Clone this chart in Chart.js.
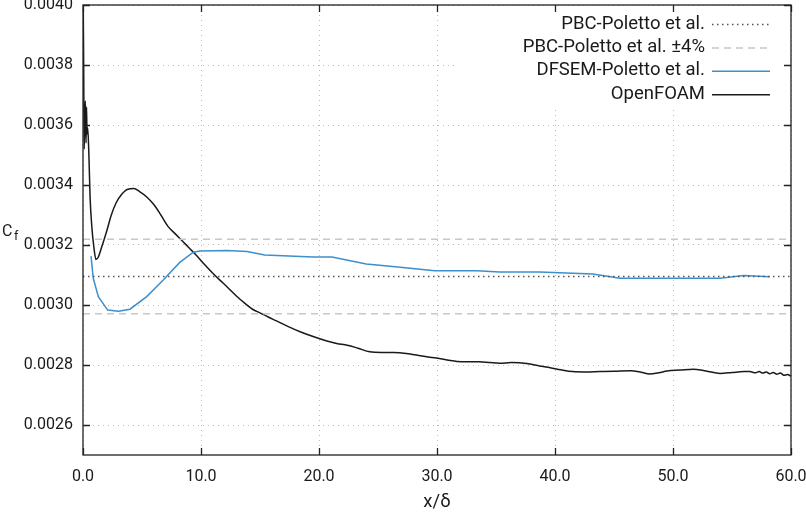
<!DOCTYPE html>
<html>
<head>
<meta charset="utf-8">
<script src="https://cdn.jsdelivr.net/npm/chart.js@4.4.1/dist/chart.umd.min.js"></script>
<style>
  body { margin: 0; background: #fff; }
  #wrap { width: 806px; height: 513px; }
</style>
</head>
<body>
<div id="wrap"><canvas id="myChart"></canvas></div>
<script>
// tick positions
const xTicks = [0, 10, 20, 30, 40, 50, 60]
const yTicks = [0.0026, 0.0028, 0.0030, 0.0032, 0.0034, 0.0036, 0.0038, 0.0040]

// PBC reference value and the +-4% band
const pbcX = [0, 60]
const pbcValue = 0.003095
const bandHigh = 0.003219
const bandLow = 0.002971

// DFSEM-Poletto et al.
const dfsemX = [0.68, 0.87, 1.3, 2.09, 3.0, 3.98, 5.4, 6.8, 8.2, 9.35, 9.9, 12.2, 13.9,
    15.4, 19.5, 21.1, 24.0, 26.9, 29.8, 33.4, 35.3, 38.7, 43.2, 45.5, 54.0, 56.0, 58.2]
const dfsemY = [0.003163, 0.003089, 0.003028, 0.002983, 0.002979, 0.002986, 0.003028,
    0.003083, 0.003142, 0.003176, 0.003180, 0.003182, 0.003178, 0.003167, 0.003160,
    0.003160, 0.003137, 0.003126, 0.003114, 0.003114, 0.003110, 0.003110, 0.003103,
    0.003089, 0.003089, 0.003098, 0.003094]

// OpenFOAM
const foamX = [0.02, 0.06, 0.10, 0.14, 0.20, 0.26, 0.30, 0.34, 0.40, 0.50, 0.60, 0.75, 0.90,
    1.1, 1.3, 1.6, 2.0, 2.4, 2.8, 3.3, 3.8, 4.3, 4.8, 5.4, 6.0, 6.6, 7.2, 7.8, 8.4, 9.0,
    9.6, 10.3, 11.0, 11.6, 12.2, 13.0, 13.8, 14.4, 15.0, 15.7, 16.4, 17.4, 18.4, 19.5,
    20.6, 21.5, 22.4, 23.3, 24.3, 25.3, 26.3, 27.7, 28.6, 29.4, 30.3, 31.0, 31.7, 32.6,
    33.6, 34.5, 35.3, 36.3, 37.6, 38.7, 39.6, 40.5, 41.5, 42.5, 43.8, 45.0, 46.4, 47.3,
    48.0, 48.8, 49.5, 50.6, 51.7, 52.8, 54.0, 55.0, 56.0, 56.5, 57.0, 57.3, 57.6, 57.9,
    58.2, 58.5, 58.8, 59.1, 59.4, 59.7, 60.0]
const foamY = [0.00400, 0.00378, 0.00352, 0.00360, 0.00368, 0.00354, 0.00366, 0.00357,
    0.00359, 0.00350, 0.00336, 0.00326, 0.00320, 0.003152, 0.003160, 0.003195, 0.003245,
    0.003300, 0.003340, 0.003370, 0.003386, 0.003388, 0.003378, 0.003360, 0.003335,
    0.003300, 0.003262, 0.003238, 0.003214, 0.003190, 0.003166, 0.003135, 0.003106,
    0.003083, 0.003061, 0.003030, 0.003003, 0.002985, 0.002974, 0.002960, 0.002947,
    0.002928, 0.002911, 0.002895, 0.002881, 0.002872, 0.002866, 0.002856, 0.002844,
    0.002842, 0.002842, 0.002837, 0.002831, 0.002826, 0.002821, 0.002816, 0.002812,
    0.002811, 0.002811, 0.002808, 0.002806, 0.002808, 0.002805, 0.002797, 0.002791,
    0.002784, 0.002778, 0.002777, 0.002778, 0.002779, 0.002781, 0.002776, 0.002770,
    0.002774, 0.002780, 0.002783, 0.002786, 0.002780, 0.002772, 0.002775, 0.002778,
    0.002778, 0.002774, 0.002778, 0.002773, 0.002777, 0.002771, 0.002775, 0.002769,
    0.002773, 0.002766, 0.002768, 0.002763]

const legendLabels = ['PBC-Poletto et al.', 'PBC-Poletto et al. \u00b14%', 'DFSEM-Poletto et al.', 'OpenFOAM']

const FONT = 'Roboto'
const BLUE = '#3d8fcc'
const BLACK = '#1a1a1a'

function pts(xs, ys) {
    return xs.map((x, i) => ({ x: x, y: ys[i] }))
}

const styles = [
    { color: '#555555', width: 1.3, dash: [1.5, 3.5] },
    { color: '#c8c8c8', width: 1.5, dash: [7, 5] },
    { color: BLUE, width: 1.5, dash: [] },
    { color: BLACK, width: 1.5, dash: [] }
]

// box, inward ticks, key and C_f label drawn on top like gnuplot does
const frame = {
    id: 'frame',
    afterDraw(chart) {
        const { ctx, chartArea: a, scales: { x, y } } = chart
        ctx.save()

        // key box (opaque)
        const kx = x.getPixelForValue(31.5)
        ctx.fillStyle = '#fff'
        ctx.fillRect(kx, a.top + 1, a.right - kx - 1, 101)

        ctx.font = '18.5px ' + FONT
        ctx.textAlign = 'right'
        ctx.textBaseline = 'middle'
        legendLabels.forEach((lab, i) => {
            const yy = a.top + 19 + i * 23.4
            ctx.fillStyle = '#1a1a1a'
            ctx.fillText(lab, 705, yy)
            const s = styles[i]
            ctx.strokeStyle = s.color
            ctx.lineWidth = s.width
            ctx.setLineDash(s.dash)
            ctx.beginPath()
            ctx.moveTo(712, yy + 0.5)
            ctx.lineTo(770, yy + 0.5)
            ctx.stroke()
        })
        ctx.setLineDash([])

        // border
        ctx.strokeStyle = '#222'
        ctx.lineWidth = 1.3
        ctx.strokeRect(a.left, a.top, a.right - a.left, a.bottom - a.top)

        // inward ticks on all four sides
        const tl = 7
        ctx.beginPath()
        xTicks.forEach(v => {
            const px = Math.round(x.getPixelForValue(v)) + 0.5
            ctx.moveTo(px, a.bottom); ctx.lineTo(px, a.bottom - tl)
            ctx.moveTo(px, a.top); ctx.lineTo(px, a.top + tl)
        })
        yTicks.forEach(v => {
            const py = Math.round(y.getPixelForValue(v)) + 0.5
            ctx.moveTo(a.left, py); ctx.lineTo(a.left + tl, py)
            ctx.moveTo(a.right, py); ctx.lineTo(a.right - tl, py)
        })
        ctx.stroke()

        // C_f
        ctx.fillStyle = '#1a1a1a'
        ctx.textAlign = 'left'
        ctx.textBaseline = 'alphabetic'
        ctx.font = '16px ' + FONT
        ctx.fillText('C', 2, 236)
        ctx.font = '12.5px ' + FONT
        ctx.fillText('f', 14, 240)
        ctx.restore()
    }
}

// no room reserved for overhanging labels, gnuplot lets them clip
function noPad(s) {
    s.paddingLeft = 0; s.paddingRight = 0; s.paddingTop = 0; s.paddingBottom = 0
}

const ctx = document.getElementById('myChart').getContext('2d')

new Chart(ctx, {
    type: 'line',
    data: {
        datasets: [
            {
                label: legendLabels[0],
                data: pts(pbcX, [pbcValue, pbcValue]),
                borderColor: styles[0].color,
                borderWidth: styles[0].width,
                borderDash: styles[0].dash
            },
            {
                label: legendLabels[1],
                data: pts(pbcX, [bandHigh, bandHigh]),
                borderColor: styles[1].color,
                borderWidth: styles[1].width,
                borderDash: styles[1].dash
            },
            {
                label: legendLabels[1] + ' low',
                data: pts(pbcX, [bandLow, bandLow]),
                borderColor: styles[1].color,
                borderWidth: styles[1].width,
                borderDash: styles[1].dash
            },
            {
                label: legendLabels[2],
                data: pts(dfsemX, dfsemY),
                borderColor: BLUE,
                borderWidth: 1.5
            },
            {
                label: legendLabels[3],
                data: pts(foamX, foamY),
                borderColor: BLACK,
                borderWidth: 1.5,
                cubicInterpolationMode: 'monotone'
            }
        ]
    },
    options: {
        responsive: true,
        maintainAspectRatio: false,
        animation: false,
        elements: { point: { radius: 0 }, line: { tension: 0, fill: false } },
        layout: { padding: { top: 5, right: 15, left: 0, bottom: 0 } },
        plugins: {
            legend: { display: false },
            tooltip: { enabled: false }
        },
        scales: {
            x: {
                type: 'linear',
                min: 0,
                max: 60,
                afterBuildTicks: s => { s.ticks = xTicks.map(v => ({ value: v })) },
                afterFit: s => { s.height = 58; noPad(s) },
                grid: { color: '#bdbdbd', lineWidth: 1, drawTicks: false },
                border: { display: false, dash: [1, 4] },
                ticks: {
                    padding: 12,
                    maxRotation: 0,
                    autoSkip: false,
                    color: '#1a1a1a',
                    font: { family: FONT, size: 16 },
                    callback: v => v.toFixed(1)
                },
                title: {
                    display: true,
                    text: 'x/\u03b4',
                    color: '#1a1a1a',
                    font: { family: FONT, size: 18.5 },
                    padding: { top: 4, bottom: 0 }
                }
            },
            y: {
                min: 0.0025,
                max: 0.0040,
                afterBuildTicks: s => { s.ticks = yTicks.map(v => ({ value: v })) },
                afterFit: s => { s.width = 83; noPad(s) },
                grid: { color: '#bdbdbd', lineWidth: 1, drawTicks: false },
                border: { display: false, dash: [1, 4] },
                ticks: {
                    padding: 10,
                    color: '#1a1a1a',
                    font: { family: FONT, size: 16 },
                    callback: v => v.toFixed(4)
                }
            }
        }
    },
    plugins: [frame]
})
</script>
</body>
</html>
